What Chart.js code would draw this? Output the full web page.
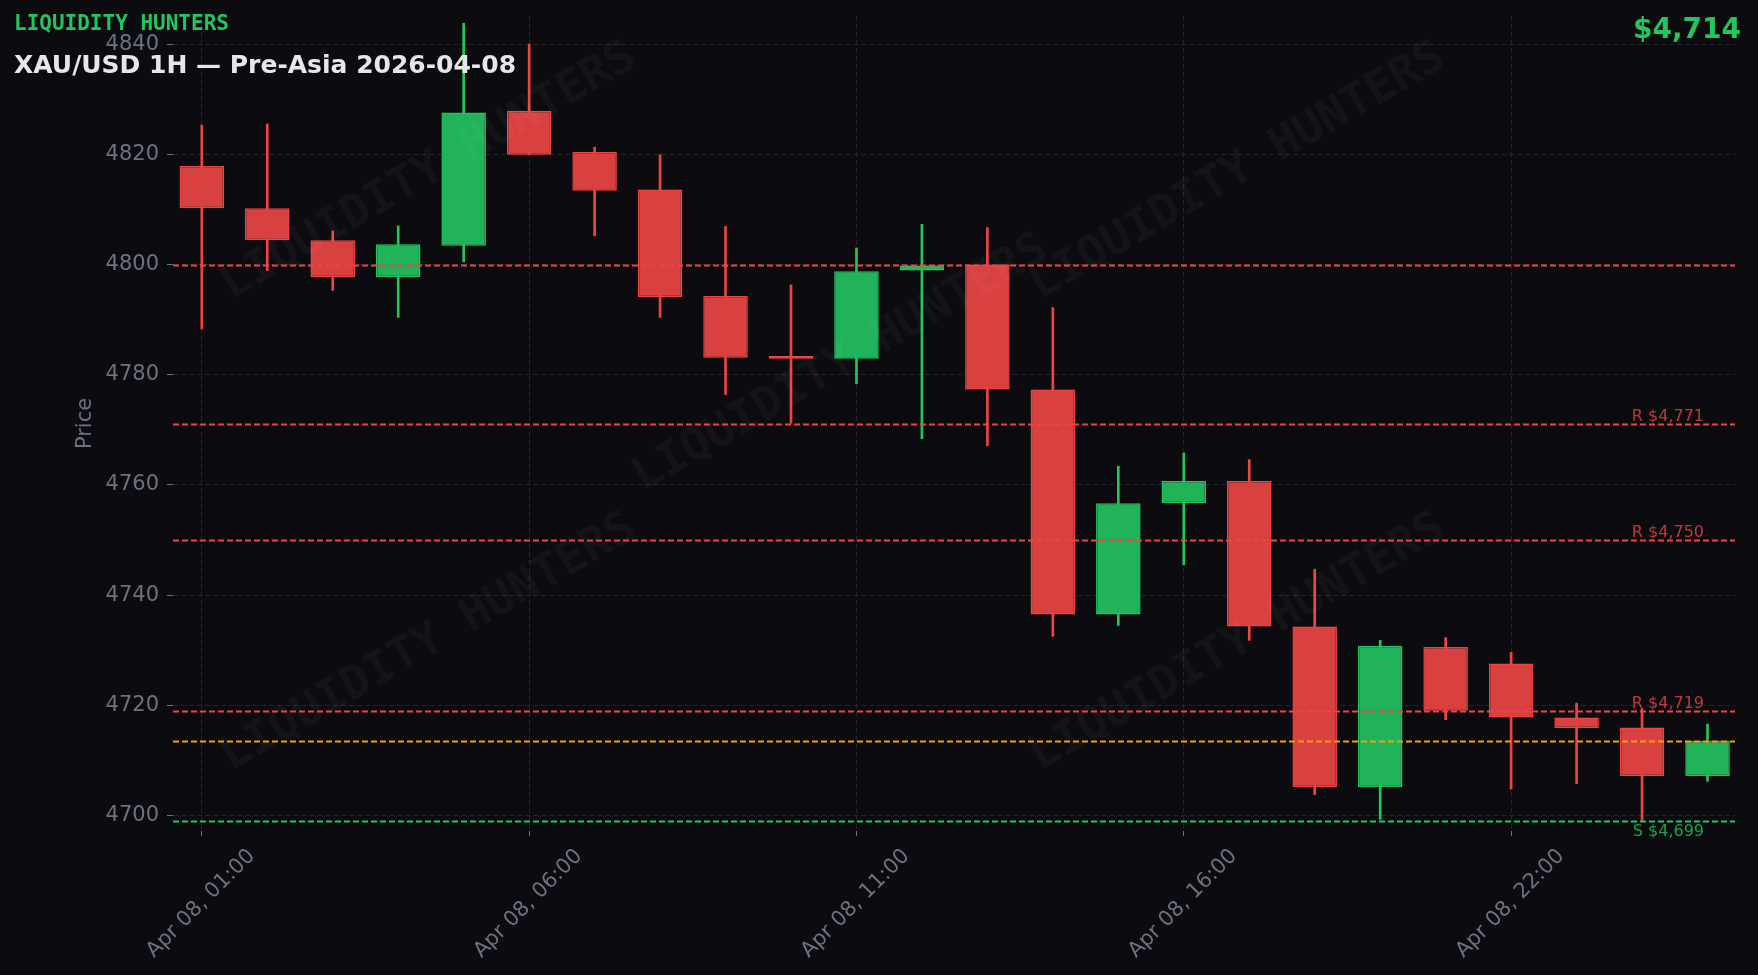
<!DOCTYPE html>
<html>
<head>
<meta charset="utf-8">
<title>XAU/USD 1H</title>
<script src="https://cdn.jsdelivr.net/npm/chart.js@4.4.1/dist/chart.umd.min.js"></script>
<style>
  html, body { margin: 0; padding: 0; background: #0b0b10; }
  #wrap { width: 1758px; height: 975px; }
</style>
</head>
<body>
<div id="wrap"><canvas id="priceChart" width="1758" height="975"></canvas></div>
<script>
// hourly candles
const times = [
    'Apr 08, 01:00', 'Apr 08, 02:00', 'Apr 08, 03:00', 'Apr 08, 04:00', 'Apr 08, 05:00',
    'Apr 08, 06:00', 'Apr 08, 07:00', 'Apr 08, 08:00', 'Apr 08, 09:00', 'Apr 08, 10:00',
    'Apr 08, 11:00', 'Apr 08, 12:00', 'Apr 08, 13:00', 'Apr 08, 14:00', 'Apr 08, 15:00',
    'Apr 08, 16:00', 'Apr 08, 17:00', 'Apr 08, 18:00', 'Apr 08, 19:00', 'Apr 08, 20:00',
    'Apr 08, 22:00', 'Apr 08, 23:00', 'Apr 09, 00:00', 'Apr 09, 01:00'
];
const opens  = [4817.9, 4810.2, 4804.4, 4797.7, 4803.4, 4827.9, 4820.4, 4813.6, 4794.3, 4783.4, 4782.9, 4798.9,
                4800.0, 4777.3, 4736.5, 4756.7, 4760.7, 4734.3, 4705.2, 4730.6, 4727.6, 4717.8, 4716.0, 4707.2];
const highs  = [4825.3, 4825.5, 4806.1, 4807.0, 4843.8, 4840.0, 4821.3, 4819.9, 4806.9, 4796.3, 4803.0, 4807.3,
                4806.7, 4792.2, 4763.4, 4765.8, 4764.6, 4744.7, 4731.8, 4732.3, 4729.6, 4720.4, 4719.4, 4716.6];
const lows   = [4788.3, 4798.9, 4795.3, 4790.4, 4800.5, 4819.9, 4805.2, 4790.4, 4776.4, 4771.2, 4778.4, 4768.4,
                4767.1, 4732.5, 4734.5, 4745.5, 4731.8, 4703.8, 4699.3, 4717.4, 4704.8, 4705.8, 4699.0, 4706.2];
const closes = [4810.2, 4804.4, 4797.7, 4803.7, 4827.6, 4819.9, 4813.4, 4794.1, 4783.1, 4782.9, 4798.8, 4799.8,
                4777.3, 4736.5, 4756.7, 4760.7, 4734.3, 4705.2, 4730.8, 4719.0, 4717.8, 4715.9, 4707.2, 4713.6];

// support / resistance levels
const levelPrices = [4800, 4771, 4750, 4719, 4699];
const levelKinds  = ['R', 'R', 'R', 'R', 'S'];
const levelLabels = ['', 'R $4,771', 'R $4,750', 'R $4,719', 'S $4,699'];
const lastPrice = 4713.6;
const lastPriceLabel = '$4,714';

const yTicks = [4700, 4720, 4740, 4760, 4780, 4800, 4820, 4840];
const xTickIndexes = [0, 5, 10, 15, 20];

const RED = '#ef4444';
const GREEN = '#22c55e';
const RED_FILL = '#d94040';
const GREEN_FILL = '#21b35a';
const GREY = '#6b7280';
const GRID = '#23242d';
const BG = '#0b0b10';

const isUp = opens.map((o, i) => closes[i] >= o);

const wickData = times.map((t, i) => ({ x: i, y: [lows[i], highs[i]] }));
const bodyData = times.map((t, i) => ({ x: i, y: [opens[i], closes[i]] }));

const overlayPlugin = {
    id: 'overlay',
    beforeDraw(chart) {
        const ctx = chart.ctx;
        ctx.save();
        ctx.fillStyle = BG;
        ctx.fillRect(0, 0, chart.width, chart.height);
        ctx.restore();
    },
    afterDatasetsDraw(chart) {
        const ctx = chart.ctx;
        const area = chart.chartArea;
        const y = chart.scales.y;

        // faint watermark
        ctx.save();
        ctx.beginPath();
        ctx.rect(area.left, area.top, area.right - area.left, area.bottom - area.top);
        ctx.clip();
        ctx.font = 'bold 46px "DejaVu Sans Mono"';
        ctx.fillStyle = 'rgba(255,255,255,0.035)';
        ctx.textAlign = 'center';
        ctx.textBaseline = 'middle';
        [[429, 172], [1238, 172], [841, 364], [429, 643], [1238, 643]].forEach(([wx, wy]) => {
            ctx.save();
            ctx.translate(wx, wy);
            ctx.rotate(-Math.PI / 6);
            ctx.fillText('LIQUIDITY HUNTERS', 0, 0);
            ctx.restore();
        });
        ctx.restore();

        // level lines
        ctx.save();
        ctx.lineWidth = 1.8;
        ctx.setLineDash([6, 3]);
        const drawLevel = (value, color) => {
            const py = Math.round(y.getPixelForValue(value)) + 0.5;
            ctx.strokeStyle = color;
            ctx.beginPath();
            ctx.moveTo(area.left, py);
            ctx.lineTo(area.right, py);
            ctx.stroke();
        };
        levelPrices.forEach((p, i) => drawLevel(p, levelKinds[i] === 'R' ? RED : GREEN));
        drawLevel(lastPrice, '#f59e0b');
        ctx.setLineDash([]);

        ctx.font = '16px "DejaVu Sans"';
        ctx.textAlign = 'right';
        levelPrices.forEach((p, i) => {
            if (!levelLabels[i]) return;
            const py = y.getPixelForValue(p);
            if (levelKinds[i] === 'R') {
                ctx.fillStyle = 'rgba(239,68,68,0.8)';
                ctx.textBaseline = 'alphabetic';
                ctx.fillText(levelLabels[i], area.right - 31, py - 3);
            } else {
                ctx.fillStyle = 'rgba(34,197,94,0.8)';
                ctx.textBaseline = 'top';
                ctx.fillText(levelLabels[i], area.right - 31, py + 3);
            }
        });
        ctx.restore();
    },
    afterDraw(chart) {
        const ctx = chart.ctx;
        ctx.save();
        ctx.textAlign = 'left';
        ctx.textBaseline = 'middle';
        ctx.font = 'bold 21px "DejaVu Sans Mono"';
        ctx.fillStyle = GREEN;
        ctx.fillText('LIQUIDITY HUNTERS', 14, 25);

        ctx.textBaseline = 'alphabetic';
        ctx.font = 'bold 25px "DejaVu Sans"';
        ctx.fillStyle = '#e5e7eb';
        ctx.fillText('XAU/USD 1H \u2014 Pre-Asia 2026-04-08', 14, 73);

        ctx.textAlign = 'right';
        ctx.font = 'bold 28px "DejaVu Sans"';
        ctx.fillStyle = GREEN;
        ctx.fillText(lastPriceLabel, 1741, 38);
        ctx.restore();
    }
};

const ctx = document.getElementById('priceChart').getContext('2d');
const chart = new Chart(ctx, {
    type: 'bar',
    data: {
        datasets: [{
            label: 'Wick',
            data: wickData,
            backgroundColor: isUp.map(u => u ? GREEN : RED),
            barThickness: 2,
            grouped: false,
            order: 2
        }, {
            label: 'Body',
            data: bodyData,
            backgroundColor: isUp.map(u => u ? GREEN_FILL : RED_FILL),
            borderColor: isUp.map(u => u ? GREEN : RED),
            borderWidth: 1.5,
            borderSkipped: false,
            barPercentage: 0.68,
            categoryPercentage: 1,
            grouped: false,
            order: 1
        }]
    },
    options: {
        responsive: false,
        animation: false,
        devicePixelRatio: 1,
        layout: { padding: { top: 16, right: 23, left: 0, bottom: 0 } },
        plugins: {
            legend: { display: false },
            tooltip: { enabled: false }
        },
        scales: {
            x: {
                type: 'linear',
                offset: false,
                min: -0.44,
                max: 23.42,
                afterFit: (scale) => {
                    scale.height = 144;
                    scale.paddingLeft = 0;
                    scale.paddingRight = 0;
                },
                afterBuildTicks: (scale) => {
                    scale.ticks = xTickIndexes.map(v => ({ value: v }));
                },
                grid: {
                    color: GRID,
                    offset: false,
                    tickColor: GREY,
                    tickLength: 5,
                    tickBorderDash: []
                },
                border: { display: false, dash: [5, 3] },
                ticks: {
                    autoSkip: false,
                    stepSize: 1,
                    minRotation: 45,
                    maxRotation: 45,
                    labelOffset: 50,
                    padding: 8,
                    color: GREY,
                    font: { family: 'DejaVu Sans', size: 21 },
                    callback: (value) => times[value]
                }
            },
            y: {
                min: 4697.2,
                max: 4845.1,
                afterFit: (scale) => {
                    scale.width = 173;
                    scale.paddingTop = 0;
                    scale.paddingBottom = 0;
                },
                afterBuildTicks: (scale) => {
                    scale.ticks = yTicks.map(v => ({ value: v }));
                },
                grid: {
                    color: GRID,
                    tickColor: GREY,
                    tickLength: 6,
                    tickBorderDash: []
                },
                border: { display: false, dash: [5, 3] },
                ticks: {
                    padding: 8,
                    color: GREY,
                    font: { family: 'DejaVu Sans', size: 21 },
                    callback: (value) => String(value)
                },
                title: {
                    display: true,
                    text: 'Price',
                    color: GREY,
                    font: { family: 'DejaVu Sans', size: 21 },
                    padding: { top: 73, bottom: 0 }
                }
            }
        }
    },
    plugins: [overlayPlugin]
});
</script>
</body>
</html>
